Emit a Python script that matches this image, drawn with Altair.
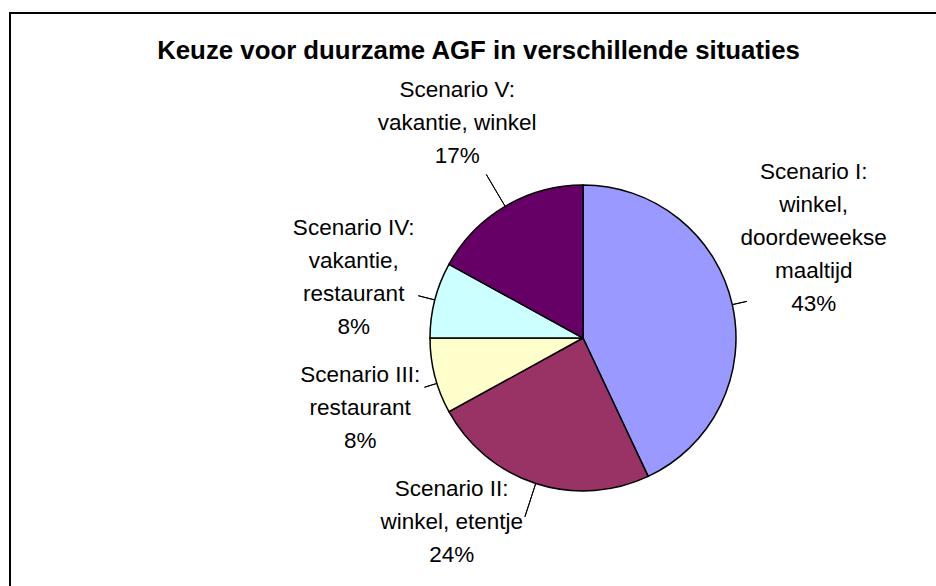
import altair as alt
import pandas as pd

# ---- data ----
scenarios = ["Scenario I", "Scenario II", "Scenario III", "Scenario IV", "Scenario V"]
contexts = [
    "winkel,\ndoordeweekse\nmaaltijd",
    "winkel, etentje",
    "restaurant",
    "vakantie,\nrestaurant",
    "vakantie, winkel",
]
shares = [43, 24, 8, 8, 17]
colors = ["#9999FF", "#993366", "#FFFFCC", "#CCFFFF", "#660066"]

labels = [f"{s}:\n{c}\n{v}%" for s, c, v in zip(scenarios, contexts, shares)]
df = pd.DataFrame({
    "idx": list(range(len(scenarios))),
    "scenario": scenarios,
    "share": shares,
    "label": labels,
})

FONT = "Liberation Sans"
R = 153
LINE_H = 33
theta_scale = alt.Scale(domain=[0, 100])

base = alt.Chart(df).transform_window(
    cum="sum(share)", sort=[alt.SortField("idx")]
).transform_calculate(
    mid="datum.cum - datum.share / 2",
    mid2="datum.cum - datum.share / 2 + 0.0001",
)

frame = alt.Chart(df).transform_filter(alt.datum.idx == 0).mark_rect(
    fill="transparent", stroke="black", strokeWidth=2
).encode(
    x=alt.value(-420), y=alt.value(-165), x2=alt.value(1200), y2=alt.value(1200)
)

pie = alt.Chart(df).mark_arc(radius=R, stroke="black", strokeWidth=1.5).encode(
    theta=alt.Theta("share:Q", stack=True, scale=theta_scale),
    order=alt.Order("idx:Q"),
    color=alt.Color("scenario:N", scale=alt.Scale(domain=scenarios, range=colors), legend=None),
)

# per slice: label radius, label angle offset (rad), leader end radius, leader angle offset
styles = {
    0: (251.6, -0.1906, 168, 0.0),
    1: (226.1, 0.3054, 188, 0.0),
    2: (233.4, -0.0515, 166, -0.05),
    3: (237.2, 0.008, 170, 0.0),
    4: (248.7, 0.0035, 190, 0.0),
}

layers = [frame, pie]
for i, (lr, lo, er, eo) in styles.items():
    n_lines = labels[i].count("\n") + 1
    leader = base.transform_filter(alt.datum.idx == i).mark_arc(
        radius=er, innerRadius=R, thetaOffset=eo, theta2Offset=eo,
        fill="transparent", stroke="black", strokeWidth=1,
    ).encode(
        theta=alt.Theta("mid:Q", stack=False, scale=theta_scale),
        theta2="mid2:Q",
    )
    label = base.transform_filter(alt.datum.idx == i).mark_text(
        radius=lr, thetaOffset=lo, lineBreak="\n", font=FONT, fontSize=22.5,
        lineHeight=LINE_H, align="center", baseline="middle", color="black",
        dy=-(n_lines - 1) / 2 * LINE_H,
    ).encode(
        theta=alt.Theta("mid:Q", stack=False, scale=theta_scale),
        text="label:N",
    )
    layers += [leader, label]

chart = alt.layer(*layers).properties(
    width=306,
    height=320,
    title=alt.Title(
        "Keuze voor duurzame AGF in verschillende situaties",
        font=FONT, fontSize=25.8, fontWeight="bold", color="black",
        anchor="middle", dx=-104.5, offset=-78, baseline="bottom",
    ),
    padding={"left": 430, "top": 178, "right": 200, "bottom": 88},
    autosize=alt.AutoSizeParams(type="none"),
    background="white",
).configure_view(strokeWidth=0)

chart.save("out.html", embed_options={"renderer": "svg", "actions": False})
